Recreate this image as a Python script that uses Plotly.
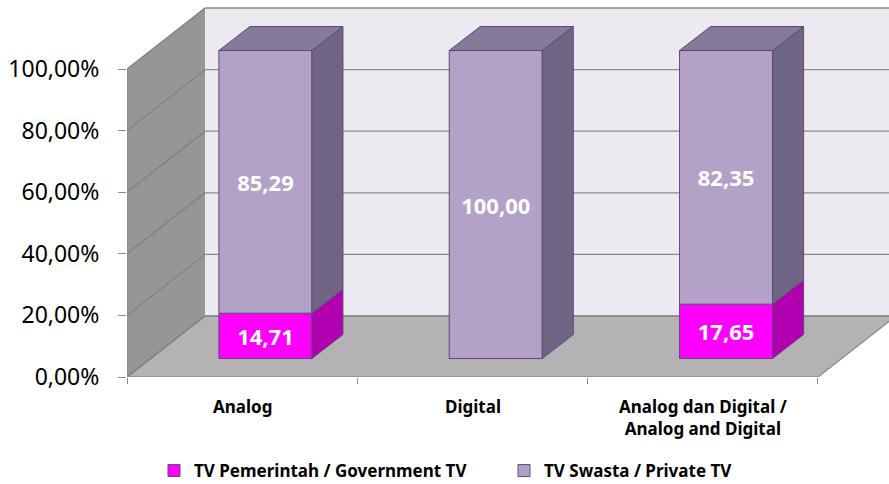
import plotly.graph_objects as go

# ---------------- data ----------------
categories = ["Analog", "Digital", "Analog dan Digital /<br>Analog and Digital"]
gov_tv = [14.71, 0.00, 17.65]
private_tv = [85.29, 100.00, 82.35]
series_names = ["TV Pemerintah / Government TV", "TV Swasta / Private TV"]
y_tickvals = [0, 20, 40, 60, 80, 100]
y_ticktext = ["0,00%", "20,00%", "40,00%", "60,00%", "80,00%", "100,00%"]

# ---------------- geometry / style ----------------
W, H = 889, 484
ML, MR, MT, MB = 127, 0, 0, 107
PX_X = 230.33           # px per category unit
PX_Y = 3.08             # px per percent
DEPTH_X = 78 / PX_X     # wall depth offset
DEPTH_Y = 61 / PX_Y
BAR_OFF_X = 0.101       # bar front face offset into depth
BAR_OFF_Y = 6.0
BAR_W = 0.404
BAR_DX = 31 / PX_X      # bar depth
BAR_DY = 24 / PX_Y

FONT = "Noto Sans"
GRID = "#8a8a8a"
EDGE = "#5e4a78"
col_front = ["#FF00FF", "#B3A2C7"]
col_side = ["#B000B0", "#6F6482"]
col_top = ["#C000C0", "#857A98"]

x_range = [-0.5, -0.5 + (W - ML - MR) / PX_X]
y_range = [0, (H - MT - MB) / PX_Y]


def path(pts):
    return "M " + " L ".join(f"{x},{y}" for x, y in pts) + " Z"


x0w, x1w = -0.5, len(categories) - 0.5
shapes = []
# left wall
shapes.append(dict(type="path", xref="x", yref="y", layer="below",
                   path=path([(x0w, 0), (x0w, 100), (x0w + DEPTH_X, 100 + DEPTH_Y), (x0w + DEPTH_X, DEPTH_Y)]),
                   fillcolor="#979598", line=dict(width=0)))
# back wall
shapes.append(dict(type="path", xref="x", yref="y", layer="below",
                   path=path([(x0w + DEPTH_X, DEPTH_Y), (x0w + DEPTH_X, 100 + DEPTH_Y),
                              (x1w + DEPTH_X, 100 + DEPTH_Y), (x1w + DEPTH_X, DEPTH_Y)]),
                   fillcolor="#ECE9F0", line=dict(width=0)))
# floor
shapes.append(dict(type="path", xref="x", yref="y", layer="below",
                   path=path([(x0w, 0), (x0w + DEPTH_X, DEPTH_Y), (x1w + DEPTH_X, DEPTH_Y), (x1w, 0)]),
                   fillcolor="#B4B2B4", line=dict(color=GRID, width=1.3)))
# gridlines
for v in y_tickvals:
    shapes.append(dict(type="line", xref="x", yref="y", layer="below",
                       x0=x0w + DEPTH_X, x1=x1w + DEPTH_X, y0=v + DEPTH_Y, y1=v + DEPTH_Y,
                       line=dict(color=GRID, width=1.3)))
    shapes.append(dict(type="line", xref="x", yref="y", layer="below",
                       x0=x0w, x1=x0w + DEPTH_X, y0=v, y1=v + DEPTH_Y,
                       line=dict(color="#7f7d80", width=1.1)))
# front vertical axis line
shapes.append(dict(type="line", xref="x", yref="y", layer="below",
                   x0=x0w, x1=x0w, y0=0, y1=100, line=dict(color=GRID, width=1.3)))

fig = go.Figure()

series = [gov_tv, private_tv]
xs = [i + BAR_OFF_X for i in range(len(categories))]
cum = [0.0] * len(categories)
faces = []
for s, vals in enumerate(series):
    bases = [c + BAR_OFF_Y for c in cum]
    texts = [f"{v:.2f}".replace(".", ",") if v > 0 else "" for v in vals]
    fig.add_trace(go.Bar(
        x=xs, y=vals, base=bases, width=BAR_W, name=series_names[s],
        marker=dict(color=col_front[s], line=dict(color=EDGE, width=1)),
        text=texts, textposition="inside", insidetextanchor="middle",
        constraintext="none",
        textfont=dict(family=FONT, size=22, color="white", weight="bold"),
        hoverinfo="skip",
    ))
    for i, v in enumerate(vals):
        if v <= 0:
            continue
        b, t = bases[i], bases[i] + v
        xl, xr = xs[i] - BAR_W / 2, xs[i] + BAR_W / 2
        faces.append(([xr, xr + BAR_DX, xr + BAR_DX, xr, xr],
                      [b, b + BAR_DY, t + BAR_DY, t, b], col_side[s]))
        if s == len(series) - 1:
            faces.append(([xl, xl + BAR_DX, xr + BAR_DX, xr, xl],
                          [t, t + BAR_DY, t + BAR_DY, t, t], col_top[s]))
    cum = [c + v for c, v in zip(cum, vals)]

for fx, fy, fc in faces:
    fig.add_trace(go.Scatter(x=fx, y=fy, mode="lines", fill="toself", fillcolor=fc,
                             line=dict(color=EDGE, width=1), showlegend=False, hoverinfo="skip"))

annotations = []
for i, c in enumerate(categories):
    annotations.append(dict(x=i, y=0, xref="x", yref="paper", yanchor="top", xanchor="center",
                            yshift=-16, showarrow=False, text=c, align="center",
                            font=dict(family=FONT, size=17, color="black", weight="bold")))

fig.update_layout(
    width=W, height=H,
    margin=dict(l=ML, r=MR, t=MT, b=MB),
    paper_bgcolor="white", plot_bgcolor="white",
    barmode="overlay",
    showlegend=True,
    legend=dict(orientation="h", xref="container", yref="container",
                x=154 / W, xanchor="left", y=1 - 471 / H, yanchor="middle",
                entrywidth=305,
                font=dict(family=FONT, size=17, color="black", weight="bold"),
                bgcolor="rgba(0,0,0,0)"),
    xaxis=dict(range=x_range, tickvals=[x0w + k for k in range(len(categories) + 1)],
               showticklabels=False, ticks="outside", ticklen=6, tickcolor=GRID, tickwidth=1.3,
               showgrid=False, zeroline=False, showline=False, fixedrange=True),
    yaxis=dict(range=y_range, tickvals=y_tickvals, ticktext=y_ticktext,
               ticks="outside", ticklen=8, tickcolor=GRID, tickwidth=1.3,
               ticklabelstandoff=14,
               tickfont=dict(family=FONT, size=23, color="black"),
               showgrid=False, zeroline=False, showline=False, fixedrange=True),
    shapes=shapes,
    annotations=annotations,
)

fig.write_html("out.html", config={"displayModeBar": False},
               post_script="document.body.style.margin='0';document.body.style.overflow='hidden';")
